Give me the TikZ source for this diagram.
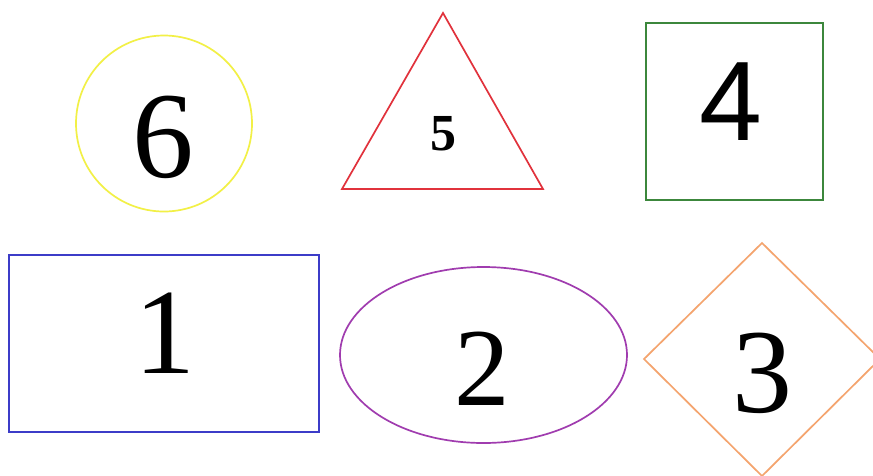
\documentclass[tikz,border=0pt]{standalone}
\usepackage{fontspec}
\setmainfont{Liberation Serif}
\newfontfamily\arialfont{Liberation Sans}
\definecolor{cyellow}{RGB}{242,240,70}
\definecolor{cred}{RGB}{225,50,60}
\definecolor{cgreen}{RGB}{60,135,60}
\definecolor{cblue}{RGB}{60,60,200}
\definecolor{cpurple}{RGB}{160,60,175}
\definecolor{corange}{RGB}{244,164,110}
\begin{document}
\begin{tikzpicture}[x=1pt,y=-1pt,
  outline/.style={line width=1.7pt},
  digit/.style={inner sep=0pt,anchor=base,text=black}]
\useasboundingbox (0,0) rectangle (873,475);
\fill[white] (0,0) rectangle (873,475);
\clip (0,0) rectangle (873,475);
% shapes
\draw[outline,cyellow] (164,123.5) circle[radius=88];
\draw[outline,cred] (443,13) -- (543,189) -- (342,189) -- cycle;
\draw[outline,cgreen] (646,23) rectangle (823,200);
\draw[outline,cblue] (9,255) rectangle (319,432);
\draw[outline,cpurple] (483.5,355) ellipse[x radius=143.5,y radius=88];
\draw[outline,corange] (762,243) -- (880,359) -- (762,476) -- (644,359) -- cycle;
% digits
\node[digit,font=\fontsize{123}{123}\selectfont] (six) at (163,177) {6};
\node[digit,font=\fontsize{52}{52}\selectfont\bfseries] (five) at (443,150) {5};
\node[digit,font=\fontsize{113}{113}\selectfont\arialfont] (four) at (731,140) {4};
\node[digit,font=\fontsize{122}{122}\selectfont] (one) at (165,373) {1};
\node[digit,font=\fontsize{111}{111}\selectfont] (two) at (482,405) {2};
\node[digit,font=\fontsize{120}{120}\selectfont] (three) at (762,412) {3};
\end{tikzpicture}
\end{document}
